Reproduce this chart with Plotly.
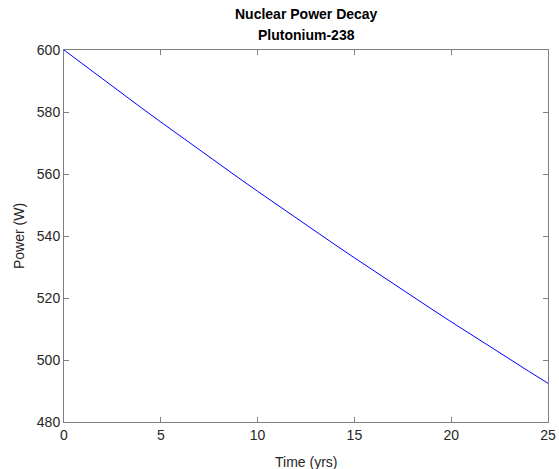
import plotly.graph_objects as go

# Pu-238 heat source output over a 25-year mission
years = [0, 1, 2, 3, 4, 5, 6, 7, 8, 9, 10, 11, 12, 13, 14, 15, 16, 17, 18, 19, 20, 21, 22, 23, 24, 25]
power_w = [600.0, 595.28, 590.60, 585.95, 581.34, 576.77, 572.23, 567.73, 563.26, 558.83,
           554.43, 550.07, 545.74, 541.45, 537.19, 532.96, 528.77, 524.61, 520.48, 516.39,
           512.32, 508.29, 504.29, 500.33, 496.39, 492.48]

x_ticks = [0, 5, 10, 15, 20, 25]
y_ticks = [480, 500, 520, 540, 560, 580, 600]

axis_gray = "#262626"
font_family = "Liberation Sans, Arial, sans-serif"

fig = go.Figure()
fig.add_trace(go.Scatter(
    x=years, y=power_w, mode="lines",
    line=dict(color="rgb(0,0,255)", width=1),
    showlegend=False, hoverinfo="skip",
))

axis_common = dict(
    showline=True, linecolor="#7f7f7f", linewidth=1, mirror="ticks",
    ticks="inside", ticklen=5, tickcolor="#7f7f7f", tickwidth=1,
    showgrid=False, zeroline=False, automargin=False,
    tickfont=dict(family=font_family, size=14, color=axis_gray),
)

fig.update_layout(
    width=559, height=469,
    margin=dict(l=64, r=11, t=50, b=47),
    paper_bgcolor="white", plot_bgcolor="white",
    font=dict(family=font_family, color=axis_gray),
    xaxis=dict(range=[0, 25], tickvals=x_ticks, ticktext=[str(v) for v in x_ticks],
               **axis_common),
    yaxis=dict(range=[480, 600], tickvals=y_ticks, ticktext=[str(v) for v in y_ticks],
               **axis_common),
    annotations=[
        dict(text="<b>Nuclear Power Decay</b>",
             xref="paper", yref="paper", x=0.5, y=1.0, yshift=36,
             xanchor="center", yanchor="middle", showarrow=False,
             font=dict(family=font_family, size=14, color="black")),
        dict(text="<b>Plutonium-238</b>",
             xref="paper", yref="paper", x=0.5, y=1.0, yshift=15,
             xanchor="center", yanchor="middle", showarrow=False,
             font=dict(family=font_family, size=14, color="black")),
        dict(text="Time (yrs)",
             xref="paper", yref="paper", x=0.5, y=0.0, yshift=-40,
             xanchor="center", yanchor="middle", showarrow=False,
             font=dict(family=font_family, size=14, color=axis_gray)),
        dict(text="Power (W)", textangle=-90,
             xref="paper", yref="paper", x=0.0, y=0.5, xshift=-45,
             xanchor="center", yanchor="middle", showarrow=False,
             font=dict(family=font_family, size=14, color=axis_gray)),
    ],
)

fig.write_html("out.html")
